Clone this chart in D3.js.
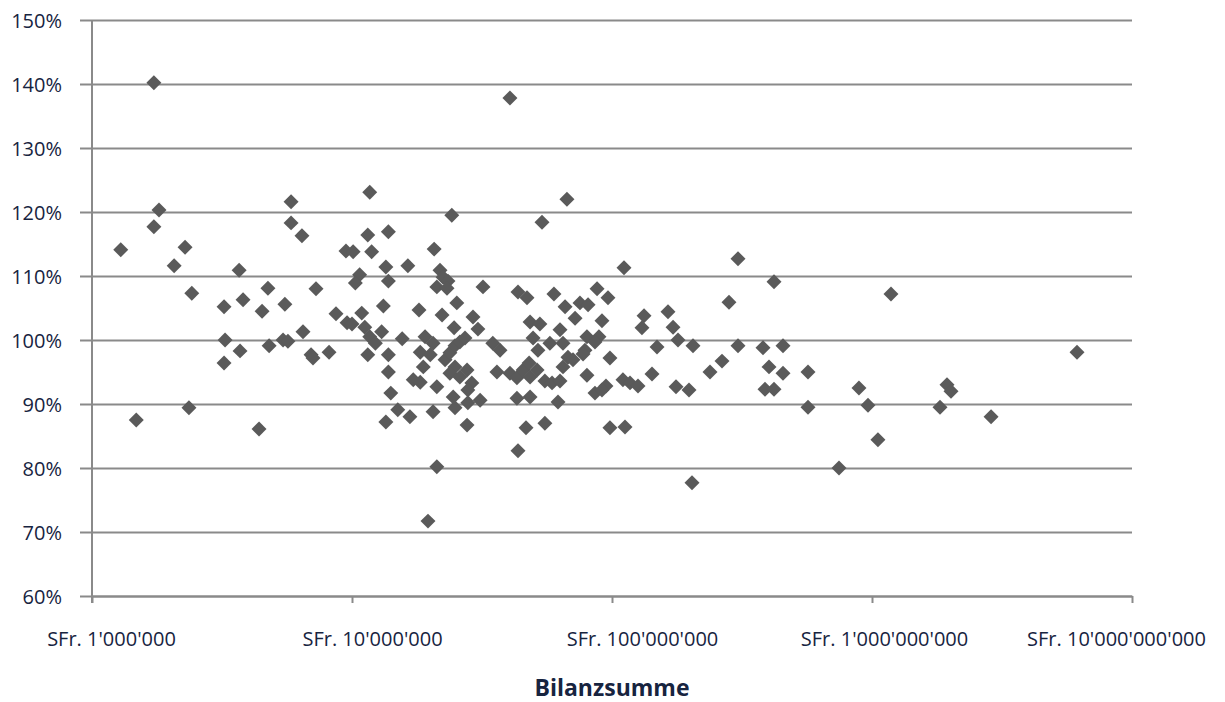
<!DOCTYPE html>
<html>
<head>
<meta charset="utf-8">
<script src="https://cdn.jsdelivr.net/npm/d3@7"></script>
<style>
body { margin: 0; background: #fff; }
text { font-family: "Open Sans", sans-serif; }
</style>
</head>
<body>
<div id="chart"></div>
<script>
// Bilanzsumme in Mio. SFr.
var bilanzMio = [
  1.29, 1.48, 1.73, 1.73, 1.81, 2.07, 2.28, 2.42, 2.36, 3.22, 3.25, 3.22, 3.68, 3.81, 3.71, 4.39, 4.51,
  4.75, 4.80, 5.52, 5.43, 5.67, 5.83, 5.83, 6.42, 6.48, 6.96, 7.08, 7.27, 8.16, 8.68, 9.48, 9.57,
  10.1, 10.7, 10.3, 11.7, 11.5, 13.8, 11.9, 13.5, 13.8, 16.4, 20.7, 24.2, 21.8, 22.4, 23.4, 21.2, 23.2,
  25.3, 31.9, 10.9, 13.2, 10.0, 11.2, 11.7, 12.3, 11.5, 13.0, 13.8, 15.6, 18.1, 22.2, 24.7, 29.2, 30.5,
  19.1, 20.5, 18.3, 20.0, 18.8, 17.2, 18.3, 13.8, 14.1, 15.0, 16.7, 13.5, 20.5, 21.2, 21.2, 19.6, 22.8,
  23.8, 24.9, 26.0, 27.2, 24.9, 23.8, 26.0, 27.7, 28.9, 27.9, 24.5, 24.9, 27.9, 31.1, 27.7,
  40.5, 34.8, 37.1, 36.1, 40.5, 43.1, 45.5, 48.0, 48.4, 51.5, 55.2, 58.8, 63.1, 43.1, 48.4, 62.0, 46.7,
  55.2, 43.5, 43.5, 47.1, 59.8, 53.8, 67.1, 48.4, 52.8, 49.7, 51.9, 57.7, 63.1, 64.8, 67.7, 70.8, 64.8,
  66.0, 72.1, 75.3, 80.9, 80.1, 78.7, 77.4, 80.1, 87.6, 96.5, 91.5, 89.1, 86.0, 98.2, 86.0, 94.8, 91.5,
  111.2, 98.2, 112.2, 110.2, 117.3, 125.9,
  142.5, 149, 132.8, 130.4, 164.2, 171.7, 179.4, 204.9, 176.3, 197.8, 238.2, 264.9, 305.2, 281.8, 305.2,
  380.9, 454.7, 401.7, 454.7, 419.9, 387.7, 419.9, 567.4, 567.4, 203.1, 746.6, 891, 965, 1054, 1183,
  1943, 2013, 1826, 2870, 6145
];
// Quote in %
var quote = [
  114.1, 87.5, 117.7, 140.2, 120.3, 111.6, 114.5, 107.3, 89.4, 105.2, 100.0, 96.4, 110.9, 106.3, 98.3, 86.1, 104.5,
  108.1, 99.1, 105.6, 100.0, 99.8, 121.6, 118.3, 116.3, 101.3, 97.7, 97.2, 108.0, 98.1, 104.1, 113.9, 102.7,
  113.8, 110.2, 108.9, 123.1, 116.4, 116.9, 113.8, 111.4, 109.2, 111.6, 114.2, 119.5, 110.9, 109.8, 109.2, 108.3, 108.1,
  105.8, 108.3, 104.2, 105.3, 102.5, 102.0, 100.5, 99.5, 97.7, 101.3, 97.7, 100.2, 104.7, 103.9, 101.9, 103.6, 101.7,
  100.5, 99.5, 98.1, 97.7, 95.8, 93.8, 93.4, 95.0, 91.7, 89.1, 88.0, 87.2, 88.8, 92.7, 80.2, 71.7, 96.9,
  98.0, 99.1, 99.7, 100.3, 95.8, 94.8, 94.2, 95.3, 93.3, 92.2, 91.1, 89.4, 90.2, 90.6, 86.7,
  137.8, 99.5, 98.4, 95.0, 94.8, 94.1, 95.3, 96.4, 94.2, 95.3, 93.6, 93.3, 93.6, 90.9, 91.1, 90.3, 86.3,
  87.0, 82.7, 107.5, 106.6, 107.2, 118.4, 122.0, 102.8, 102.5, 100.3, 98.4, 99.5, 101.6, 99.5, 97.3, 96.9, 95.8,
  105.2, 103.4, 105.8, 105.5, 100.5, 98.4, 97.8, 94.5, 108.0, 106.6, 103.0, 100.5, 99.7, 97.2, 91.7, 92.8, 92.2,
  111.3, 86.3, 86.4, 93.8, 93.3, 92.8,
  94.7, 98.9, 103.8, 101.9, 104.4, 102.0, 100.0, 99.1, 92.7, 92.2, 95.0, 96.7, 112.7, 105.9, 99.1,
  98.8, 99.1, 95.8, 94.8, 109.1, 92.3, 92.3, 95.0, 89.5, 77.7, 80.0, 92.5, 89.8, 84.4, 107.2,
  93.0, 92.0, 89.5, 88.0, 98.1
];
var xTicks = [1e6, 1e7, 1e8, 1e9, 1e10];
var yTicks = [60, 70, 80, 90, 100, 110, 120, 130, 140, 150];
var xTitle = "Bilanzsumme";

var width = 1225, height = 702;
var margin = {top: 20, right: 93, bottom: 106, left: 92};
var w = width - margin.left - margin.right;
var h = height - margin.top - margin.bottom;

// Excel places the category labels a bit off the tick marks
var labelShift = [19, 20, 30, 12, -16];

var points = bilanzMio.map(function (d, i) {
  return {x: d * 1e6, y: quote[i]};
});

var swiss = d3.formatLocale({decimal: ".", thousands: "'", grouping: [3], currency: ["SFr. ", ""]});
var fmtX = swiss.format("$,.0f");

var x = d3.scaleLog().domain([1e6, 1e10]).range([0, w]);
var y = d3.scaleLinear().domain([60, 150]).range([h, 0]);

var svg = d3.select("#chart").append("svg")
  .attr("width", width)
  .attr("height", height)
  .style("background", "#fff");

var g = svg.append("g")
  .attr("transform", "translate(" + margin.left + "," + margin.top + ")");

// y axis + gridlines
var yAxis = g.append("g")
  .call(d3.axisLeft(y).tickValues(yTicks).tickSize(-w).tickFormat(function (d) { return d + "%"; }));
yAxis.select(".domain").remove();
yAxis.selectAll(".tick line")
  .attr("x1", -12)
  .attr("stroke", "#8a8a8a")
  .attr("stroke-width", 2);
yAxis.selectAll(".tick text")
  .attr("x", -30)
  .attr("dy", "0.36em")
  .style("font-size", "20px")
  .style("font-family", "'Open Sans', sans-serif")
  .attr("fill", "#17243f");

// x axis
var xAxis = g.append("g")
  .attr("transform", "translate(0," + h + ")")
  .call(d3.axisBottom(x).tickValues(xTicks).tickSize(7).tickSizeOuter(0).tickFormat(fmtX));
xAxis.select(".domain")
  .attr("stroke", "#8a8a8a")
  .attr("stroke-width", 2);
xAxis.selectAll(".tick line")
  .attr("stroke", "#8a8a8a")
  .attr("stroke-width", 2);
xAxis.selectAll(".tick text")
  .attr("y", 36)
  .attr("dy", "0.71em")
  .attr("dx", function (d, i) { return labelShift[i]; })
  .style("font-size", "20px")
  .style("font-family", "'Open Sans', sans-serif")
  .attr("fill", "#17243f");

// vertical axis line
g.append("line")
  .attr("x1", 0).attr("x2", 0)
  .attr("y1", 0).attr("y2", h + 7)
  .attr("stroke", "#8a8a8a")
  .attr("stroke-width", 2);

// points
var diamond = d3.symbol().type(d3.symbolSquare).size(112);
g.append("g")
  .selectAll("path")
  .data(points)
  .enter()
  .append("path")
  .attr("d", diamond)
  .attr("transform", function (d) {
    return "translate(" + x(d.x) + "," + y(d.y) + ") rotate(45)";
  })
  .attr("fill", "#5a5a5a");

// axis title
svg.append("text")
  .attr("x", margin.left + w / 2)
  .attr("y", 696)
  .attr("text-anchor", "middle")
  .style("font-size", "23px")
  .style("font-weight", "bold")
  .attr("fill", "#17243f")
  .text(xTitle);
</script>
</body>
</html>
